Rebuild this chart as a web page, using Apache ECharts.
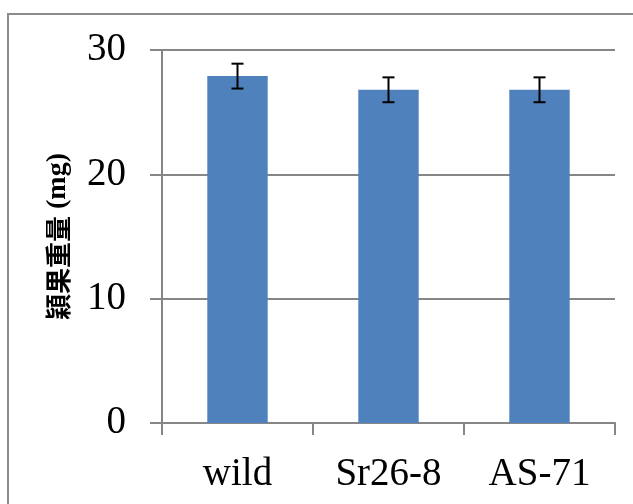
<!DOCTYPE html>
<html><head><meta charset="utf-8">
<script src="https://cdn.jsdelivr.net/npm/echarts@6/dist/echarts.min.js"></script>
<style>html,body{margin:0;padding:0;background:#fff}#c{width:633px;height:504px}</style>
</head><body><div id="c"></div>
<script>
const categories = ['wild', 'Sr26-8', 'AS-71'];
const values = [27.9, 26.8, 26.8];
const errors = [1.0, 1.0, 1.0];
const yTicks = [0, 10, 20, 30];

const chart = echarts.init(document.getElementById('c'), null, {renderer: 'canvas'});
const errData = categories.map((c, i) => [i, values[i] - errors[i], values[i] + errors[i]]);
const serif = '"Liberation Serif", "DejaVu Serif", serif';
chart.setOption({
  animation: false,
  graphic: [{type: 'rect', shape: {x: 8, y: 14, width: 700, height: 600},
    style: {fill: 'none', stroke: '#8c8c8c', lineWidth: 2}, silent: true}],
  grid: {left: 162, right: 18, top: 50, bottom: 81},
  xAxis: {
    type: 'category', data: categories,
    axisLine: {lineStyle: {color: '#868686', width: 2}},
    axisTick: {show: true, length: 12, lineStyle: {color: '#868686', width: 2}},
    axisLabel: {fontFamily: serif, fontSize: 39, color: '#000', margin: 32}
  },
  yAxis: {
    type: 'value', min: yTicks[0], max: yTicks[yTicks.length - 1], interval: 10,
    axisLine: {show: true, lineStyle: {color: '#868686', width: 2}},
    axisTick: {show: true, length: 12, lineStyle: {color: '#868686', width: 2}},
    splitLine: {lineStyle: {color: '#868686', width: 2}},
    axisLabel: {fontFamily: serif, fontSize: 39, color: '#000', margin: 36},
    name: '{a|穎果重量}{b| (mg)}', nameLocation: 'middle', nameRotate: 90, nameGap: 90,
    nameTextStyle: {
      fontSize: 26, fontWeight: 'bold', color: '#000',
      rich: {
        a: {fontFamily: '"Noto Sans CJK JP"', fontWeight: 'bold', fontSize: 26, color: '#000'},
        b: {fontFamily: serif, fontWeight: 'bold', fontSize: 28, color: '#000'}
      }
    }
  },
  series: [{
    type: 'bar', data: values, barWidth: '40%',
    itemStyle: {color: '#4f81bd'}
  }, {
    type: 'custom', data: errData, z: 10,
    renderItem: function (params, api) {
      const x = api.value(0);
      const lo = api.coord([x, api.value(1)]);
      const hi = api.coord([x, api.value(2)]);
      const w = 6;
      const st = {stroke: '#000', lineWidth: 2};
      return {type: 'group', children: [
        {type: 'line', shape: {x1: lo[0], y1: lo[1], x2: hi[0], y2: hi[1]}, style: st},
        {type: 'line', shape: {x1: lo[0] - w, y1: lo[1], x2: lo[0] + w, y2: lo[1]}, style: st},
        {type: 'line', shape: {x1: hi[0] - w, y1: hi[1], x2: hi[0] + w, y2: hi[1]}, style: st}
      ]};
    }
  }]
});
</script></body></html>
